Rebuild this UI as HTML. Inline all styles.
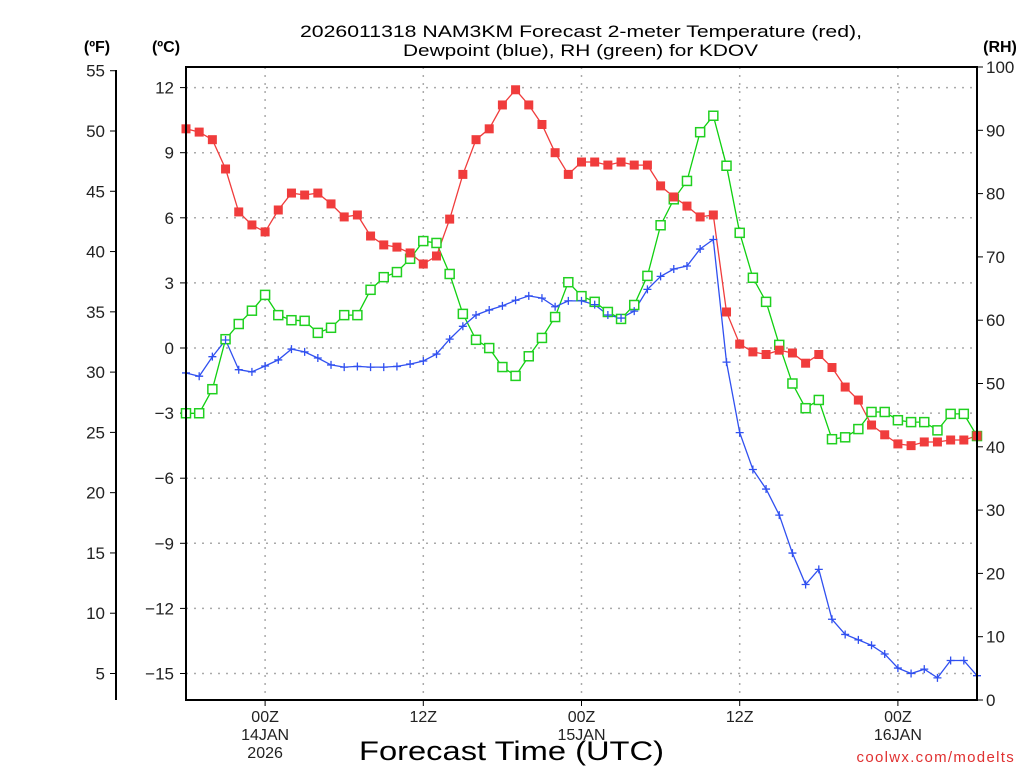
<!DOCTYPE html>
<html><head><meta charset="utf-8"><style>
html,body{margin:0;padding:0;background:#fff}
svg{display:block;font-family:"Liberation Sans","DejaVu Sans",sans-serif}
</style></head><body>
<svg id="chart" width="1024" height="768" viewBox="0 0 1024 768" xmlns="http://www.w3.org/2000/svg">
<rect width="1024" height="768" fill="#fff"/>
<text x="300" y="37" font-size="17" textLength="562" lengthAdjust="spacingAndGlyphs" fill="#000">2026011318 NAM3KM Forecast 2-meter Temperature (red),</text>
<text x="403" y="56" font-size="17" textLength="355" lengthAdjust="spacingAndGlyphs" fill="#000">Dewpoint (blue), RH (green) for KDOV</text>
<text x="97" y="52" font-size="16" font-weight="bold" text-anchor="middle">(ºF)</text>
<text x="166" y="52" font-size="16" font-weight="bold" text-anchor="middle">(ºC)</text>
<text x="1000" y="52" font-size="16" font-weight="bold" text-anchor="middle">(RH)</text>
<g id="grid"></g>
<g id="axes"></g>
<g id="series"></g>
<rect x="186" y="67" width="791" height="633" fill="none" stroke="#000" stroke-width="2"/>
<text x="359" y="760" font-size="27" textLength="305" lengthAdjust="spacingAndGlyphs">Forecast Time (UTC)</text>
<text x="1015" y="762" font-size="15" text-anchor="end" fill="#e03030" letter-spacing="1.3">coolwx.com/modelts</text>
</svg>
<script>
const hours = [0,1,2,3,4,5,6,7,8,9,10,11,12,13,14,15,16,17,18,19,20,21,22,23,24,25,26,27,28,29,30,31,32,33,34,35,36,37,38,39,40,41,42,43,44,45,46,47,48,49,50,51,52,53,54,55,56,57,58,59,60];
const tempC = [10.1,9.95,9.6,8.25,6.27,5.67,5.35,6.36,7.14,7.05,7.14,6.64,6.04,6.13,5.16,4.75,4.65,4.38,3.87,4.24,5.94,8.0,9.6,10.1,11.2,11.9,11.2,10.3,9.0,8.0,8.57,8.57,8.43,8.57,8.43,8.43,7.47,6.96,6.54,6.04,6.13,1.66,0.18,-0.18,-0.3,-0.1,-0.23,-0.7,-0.3,-0.9,-1.8,-2.4,-3.55,-4.0,-4.42,-4.5,-4.33,-4.33,-4.24,-4.24,-4.05];
const dewC = [-1.15,-1.3,-0.4,0.37,-1.0,-1.1,-0.83,-0.55,-0.05,-0.18,-0.46,-0.78,-0.88,-0.85,-0.88,-0.88,-0.85,-0.74,-0.6,-0.28,0.41,1.0,1.52,1.75,1.94,2.2,2.4,2.3,1.9,2.17,2.17,2.0,1.52,1.38,1.7,2.7,3.3,3.64,3.78,4.56,5.0,-0.65,-3.9,-5.6,-6.5,-7.7,-9.45,-10.9,-10.2,-12.5,-13.2,-13.45,-13.7,-14.1,-14.75,-15.0,-14.8,-15.2,-14.4,-14.4,-15.1];
const rh = [45.3,45.3,49.1,57,59.4,61.5,64,60.8,60,59.9,58,58.8,60.8,60.8,64.8,66.8,67.6,69.7,72.5,72.2,67.3,61,56.9,55.6,52.6,51.2,54.3,57.2,60.5,66,63.8,62.9,61.3,60.2,62.4,67,75,79.1,82,89.7,92.3,84.4,73.8,66.7,62.9,56.1,50,46.1,47.4,41.2,41.5,42.8,45.5,45.5,44.2,43.9,43.9,42.6,45.2,45.2,41.7];
const cTicks = [12,9,6,3,0,-3,-6,-9,-12,-15];
const cTickLabels = ["12","9","6","3","0","\u22123","\u22126","\u22129","\u221212","\u221215"];
const fTicks = [55,50,45,40,35,30,25,20,15,10,5];
const rhTicks = [100,90,80,70,60,50,40,30,20,10,0];
const xTickHours = [6,18,30,42,54];
const xTickLine1 = ["00Z","12Z","00Z","12Z","00Z"];
const xTickLine2 = ["14JAN","","15JAN","","16JAN"];
const xTickLine3 = ["2026","","","",""];

const L=186,R=977,T=67,B=700;
const xs = h => L + h*(R-L)/60;
const yC = c => 348 - c*21.7;
const yF = f => yC((f-32)*5/9);
const yRH = v => B - v*(B-T)/100;
const NS="http://www.w3.org/2000/svg";
function mk(tag, attrs, parent){const e=document.createElementNS(NS,tag);for(const k in attrs)e.setAttribute(k,attrs[k]);parent.appendChild(e);return e;}
const grid=document.getElementById('grid'), axes=document.getElementById('axes'), ser=document.getElementById('series');

cTicks.forEach((c,i)=>{
  const y=yC(c);
  const g=mk('line',{x1:L,x2:R,y1:y,y2:y,stroke:'#aaa','stroke-width':1.5,'stroke-dasharray':'2,6'},grid);
  
  
  const t=mk('line',{x1:L-6,x2:L,y1:y,y2:y,stroke:'#000','stroke-width':1},axes);
  
  
  const tx=mk('text',{x:L-12,y:y+6,'font-size':17,'text-anchor':'end',fill:'#222'},axes);
  tx.textContent=cTickLabels[i];
  
  
});
const fl=mk('line',{x1:116,x2:116,y1:70,y2:700,stroke:'#000','stroke-width':2},axes);


fTicks.forEach(f=>{
  const y=yF(f);
  const t=mk('line',{x1:110,x2:116,y1:y,y2:y,stroke:'#000','stroke-width':1},axes);
  
  
  const tx=mk('text',{x:105,y:y+6,'font-size':17,'text-anchor':'end',fill:'#222'},axes);
  tx.textContent=String(f);
  
  
});
rhTicks.forEach(v=>{
  const y=yRH(v);
  const t=mk('line',{x1:R,x2:R+6,y1:y,y2:y,stroke:'#000','stroke-width':1},axes);
  
  
  const tx=mk('text',{x:R+9,y:y+6,'font-size':17,'text-anchor':'start',fill:'#222'},axes);
  tx.textContent=String(v);
  
  
});
xTickHours.forEach((h,i)=>{
  const x=xs(h);
  const g=mk('line',{x1:x,x2:x,y1:T,y2:B,stroke:'#aaa','stroke-width':1.5,'stroke-dasharray':'2,6'},grid);
  
  
  const t=mk('line',{x1:x,x2:x,y1:B,y2:B+6,stroke:'#000','stroke-width':1},axes);
  
  
  [xTickLine1[i],xTickLine2[i],xTickLine3[i]].forEach((s,j)=>{
    if(!s)return;
    const tx=mk('text',{x:x,y:722+j*18,'font-size':16,'text-anchor':'middle',fill:'#222'},axes);
    tx.textContent=s;
    
    
  });
});

function drawLine(vals, yf, color, name){
  const pts=vals.map((v,i)=>xs(hours[i]).toFixed(1)+','+yf(v).toFixed(1)).join(' ');
  const p=mk('polyline',{points:pts,fill:'none',stroke:color,'stroke-width':1.3},ser);
  
  
}
drawLine(rh,yRH,'#10d010','rh');
drawLine(tempC,yC,'#f03c3c','temperature');
drawLine(dewC,yC,'#3050f0','dewpoint');
rh.forEach((v,i)=>{
  const m=mk('rect',{x:xs(hours[i])-4.5,y:yRH(v)-4.5,width:9,height:9,fill:'#fff',stroke:'#20d020','stroke-width':1.5},ser);
  
  
});
tempC.forEach((v,i)=>{
  const m=mk('rect',{x:xs(hours[i])-4.5,y:yC(v)-4.5,width:9,height:9,fill:'#f03c3c'},ser);
  
  
});
dewC.forEach((v,i)=>{
  const x=xs(hours[i]),y=yC(v);
  const m=mk('path',{d:`M${x-4},${y}H${x+4}M${x},${y-4}V${y+4}`,stroke:'#3050f0','stroke-width':1.3,fill:'none'},ser);
  
  
});
</script>
</body></html>
